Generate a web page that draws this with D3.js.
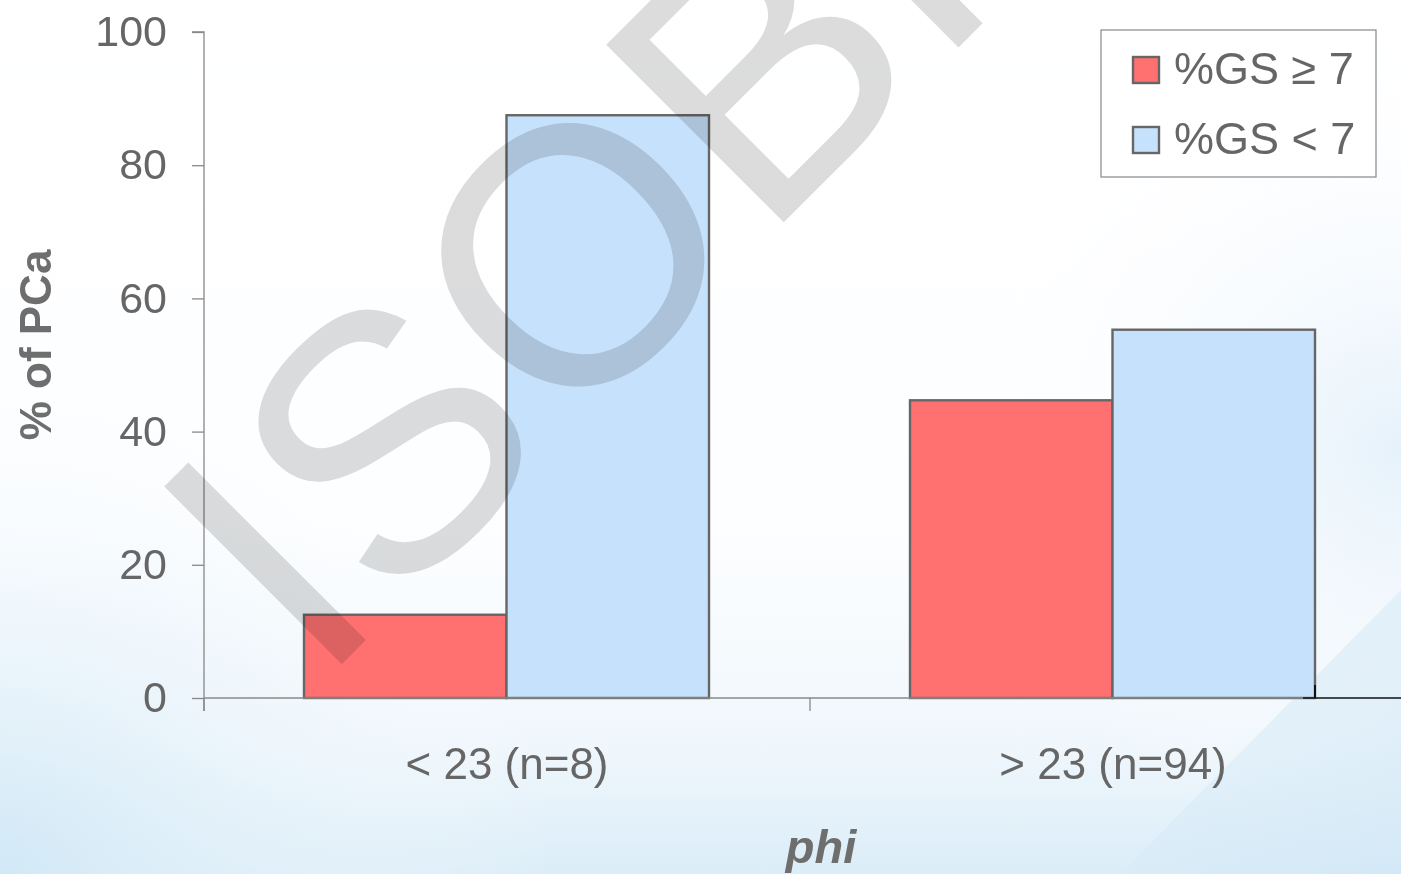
<!DOCTYPE html>
<html>
<head>
<meta charset="utf-8">
<script src="https://cdn.jsdelivr.net/npm/d3@7"></script>
<style>
  html, body { margin: 0; padding: 0; overflow: hidden; }
  svg { display: block; }
  text { font-family: "Liberation Sans", Arial, sans-serif; }
</style>
</head>
<body>
<svg id="chart" width="1401" height="874"></svg>
<script>
// ---- data ----
const categories = ["< 23 (n=8)", "> 23 (n=94)"];
const seriesNames = ["%GS \u2265 7", "%GS < 7"];
const gsHigh = [12.5, 44.7];
const gsLow = [87.5, 55.3];
const yTicks = [0, 20, 40, 60, 80, 100];
const xTitle = "phi";
const yTitle = "% of PCa";
const watermark = "ISOBI";

const colors = ["#ff7171", "#c6e1fb"];
const seriesValues = [gsHigh, gsLow];

const W = 1401, H = 874;
const svg = d3.select("#chart");
const defs = svg.append("defs");

// background
const vg = defs.append("linearGradient").attr("id", "bgv")
  .attr("x1", 0).attr("y1", 0).attr("x2", 0).attr("y2", 1);
vg.append("stop").attr("offset", 0).attr("stop-color", "#ffffff");
vg.append("stop").attr("offset", 0.6).attr("stop-color", "#fdfeff");
vg.append("stop").attr("offset", 0.85).attr("stop-color", "#f0f7fc");
vg.append("stop").attr("offset", 1).attr("stop-color", "#dbedf8");
svg.append("rect").attr("width", W).attr("height", H).attr("fill", "url(#bgv)");

const rg = defs.append("radialGradient").attr("id", "bgl")
  .attr("gradientUnits", "userSpaceOnUse")
  .attr("cx", 0).attr("cy", 874).attr("r", 560);
rg.append("stop").attr("offset", 0).attr("stop-color", "#cfe7f6").attr("stop-opacity", 0.85);
rg.append("stop").attr("offset", 1).attr("stop-color", "#ffffff").attr("stop-opacity", 0);
svg.append("rect").attr("width", W).attr("height", H).attr("fill", "url(#bgl)");

const rr = defs.append("radialGradient").attr("id", "bgr")
  .attr("gradientUnits", "userSpaceOnUse")
  .attr("cx", 1401).attr("cy", 450).attr("r", 420);
rr.append("stop").attr("offset", 0).attr("stop-color", "#e3f0fa").attr("stop-opacity", 0.9);
rr.append("stop").attr("offset", 1).attr("stop-color", "#ffffff").attr("stop-opacity", 0);
svg.append("rect").attr("width", W).attr("height", H).attr("fill", "url(#bgr)");

const lg = defs.append("linearGradient").attr("id", "corner")
  .attr("x1", 0).attr("y1", 0).attr("x2", 1).attr("y2", 1);
lg.append("stop").attr("offset", 0).attr("stop-color", "#e4f1fa");
lg.append("stop").attr("offset", 1).attr("stop-color", "#cde5f5");
svg.append("path")
  .attr("d", `M${W},590 L${W},${H} L1120,${H} Z`)
  .attr("fill", "url(#corner)").attr("opacity", 0.6);

// scales
const y = d3.scaleLinear().domain([0, 100]).range([698, 32]);
const x0 = d3.scaleBand().domain(categories).range([204, 1416]).padding(0);
const x1 = d3.scaleBand().domain(seriesNames).range([100, x0.bandwidth() - 101]).padding(0);

// y axis
const yAxis = svg.append("g").attr("transform", "translate(204,0)")
  .call(d3.axisLeft(y).tickValues(yTicks).tickSize(12).tickPadding(25).tickFormat(d3.format("d")));
yAxis.select(".domain").attr("stroke", "#888").attr("stroke-width", 1.3)
  .attr("d", `M-12,${y(100)}H0V${y(0) + 13}`);
yAxis.selectAll(".tick line").attr("stroke", "#888").attr("stroke-width", 1.3);
yAxis.selectAll(".tick text").attr("fill", "#666").attr("font-size", 43)
  .attr("font-family", "Liberation Sans, Arial, sans-serif");

// bars
const groups = svg.append("g").selectAll("g").data(categories).join("g")
  .attr("transform", d => `translate(${x0(d)},0)`);
groups.selectAll("rect")
  .data((c, i) => seriesNames.map((s, j) => ({ s, j, v: seriesValues[j][i] })))
  .join("rect")
  .attr("x", d => x1(d.s))
  .attr("width", x1.bandwidth())
  .attr("y", d => y(d.v))
  .attr("height", d => y(0) - y(d.v))
  .attr("fill", d => colors[d.j])
  .attr("stroke", "#666")
  .attr("stroke-width", 2.4);

// x axis
const lastRight = x0(categories[1]) + x1(seriesNames[1]) + x1.bandwidth();
svg.append("line").attr("x1", 204).attr("x2", lastRight).attr("y1", y(0)).attr("y2", y(0))
  .attr("stroke", "#888").attr("stroke-width", 1.5);
svg.append("line").attr("x1", lastRight - 12).attr("x2", W).attr("y1", y(0)).attr("y2", y(0))
  .attr("stroke", "#111").attr("stroke-width", 1.5);
svg.append("line").attr("x1", lastRight).attr("x2", lastRight).attr("y1", y(0) - 13).attr("y2", y(0))
  .attr("stroke", "#111").attr("stroke-width", 2);
const boundaries = categories.map(c => x0(c)).concat([x0.range()[1]]);
svg.append("g").selectAll("line").data(boundaries).join("line")
  .attr("x1", d => d).attr("x2", d => d)
  .attr("y1", y(0)).attr("y2", y(0) + 13)
  .attr("stroke", "#888").attr("stroke-width", 1.3);
svg.append("g").selectAll("text").data(categories).join("text")
  .attr("x", d => x0(d) + x0.bandwidth() / 2)
  .attr("y", 779)
  .attr("text-anchor", "middle")
  .attr("font-size", 44)
  .attr("fill", "#666")
  .text(d => d);

// axis titles
svg.append("text").attr("x", 821).attr("y", 863).attr("text-anchor", "middle")
  .attr("font-size", 47).attr("font-weight", "bold").attr("font-style", "italic")
  .attr("fill", "#6e6e6e").text(xTitle);
svg.append("text").attr("transform", "translate(51,345) rotate(-90)")
  .attr("text-anchor", "middle").attr("font-size", 44).attr("font-weight", "bold")
  .attr("fill", "#6e6e6e").text(yTitle);

// legend
const legend = svg.append("g");
legend.append("rect").attr("x", 1101).attr("y", 30).attr("width", 275).attr("height", 147)
  .attr("fill", "#ffffff").attr("stroke", "#888").attr("stroke-width", 1.2);
const li = legend.selectAll("g").data(seriesNames).join("g")
  .attr("transform", (d, i) => `translate(1133,${57 + i * 70})`);
li.append("rect").attr("width", 26).attr("height", 26)
  .attr("fill", (d, i) => colors[i]).attr("stroke", "#666").attr("stroke-width", 2.4);
li.append("text").attr("x", 41).attr("y", 27).attr("font-size", 45).attr("fill", "#666")
  .text(d => d);

// watermark
svg.append("text")
  .attr("transform", "translate(318,688) rotate(-45)")
  .attr("font-size", 365)
  .attr("fill", "#dcdcdc")
  .style("mix-blend-mode", "multiply")
  .text(watermark);
</script>
</body>
</html>
